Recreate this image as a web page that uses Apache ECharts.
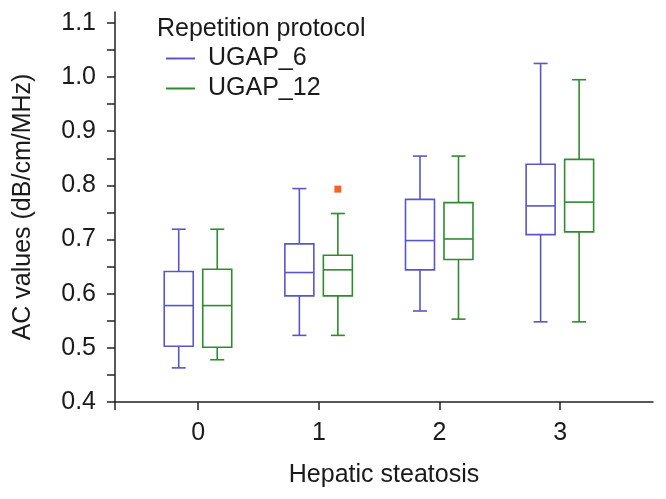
<!doctype html>
<html>
	<head>
		<meta charset="UTF-8">
		<title>AC values by hepatic steatosis</title>
		<script src="https://cdn.jsdelivr.net/npm/echarts@6/dist/echarts.min.js"></script>
		<style>
			html, body { margin: 0; padding: 0; background: #fff; }
			#chart { width: 666px; height: 499px; }
		</style>
	</head>
	<body>
		<div id="chart"></div>
		<script type="text/javascript">
			// 数据: [min, Q1, median, Q3, max]
			var categories = ['0', '1', '2', '3'];
			var ugap6 = [
				[0.463, 0.503, 0.578, 0.641, 0.719],
				[0.523, 0.596, 0.639, 0.692, 0.794],
				[0.568, 0.644, 0.698, 0.774, 0.854],
				[0.548, 0.709, 0.762, 0.839, 1.025]
			];
			var ugap12 = [
				[0.478, 0.501, 0.578, 0.645, 0.719],
				[0.523, 0.596, 0.644, 0.671, 0.748],
				[0.553, 0.663, 0.701, 0.768, 0.854],
				[0.548, 0.714, 0.769, 0.848, 0.995]
			];
			// 离群点: [category index, value]
			var outliers12 = [[1, 0.793]];
			var yLabels = [0.4, 0.5, 0.6, 0.7, 0.8, 0.9, 1.0, 1.1];
			var yTicks = [0.4, 0.45, 0.5, 0.55, 0.6, 0.65, 0.7, 0.75, 0.8, 0.85, 0.9, 0.95, 1.0, 1.05, 1.1];

			var blue = '#5a55c9';
			var green = '#2e8b2e';
			var font = 'Liberation Sans, Arial, Helvetica, sans-serif';

			function toData(rows) {
				return rows.map(function(r, i) {
					return [i].concat(r);
				});
			}

			// 画箱线图 (offset 为像素偏移)
			function boxRenderer(offset) {
				return function(params, api) {
					var x = api.value(0);
					var lo = api.coord([x, api.value(1)]);
					var q1 = api.coord([x, api.value(2)]);
					var md = api.coord([x, api.value(3)]);
					var q3 = api.coord([x, api.value(4)]);
					var hi = api.coord([x, api.value(5)]);
					var cx = lo[0] + offset;
					var hw = 14.5, cw = 7;
					var style = { stroke: api.visual('color'), lineWidth: 1.6, fill: null };
					return {
						type: 'group',
						children: [
							{ type: 'line', shape: { x1: cx, y1: hi[1], x2: cx, y2: q3[1] }, style: style },
							{ type: 'line', shape: { x1: cx, y1: q1[1], x2: cx, y2: lo[1] }, style: style },
							{ type: 'line', shape: { x1: cx - cw, y1: hi[1], x2: cx + cw, y2: hi[1] }, style: style },
							{ type: 'line', shape: { x1: cx - cw, y1: lo[1], x2: cx + cw, y2: lo[1] }, style: style },
							{ type: 'rect', shape: { x: cx - hw, y: q3[1], width: hw * 2, height: q1[1] - q3[1] }, style: style },
							{ type: 'line', shape: { x1: cx - hw, y1: md[1], x2: cx + hw, y2: md[1] }, style: style }
						]
					};
				};
			}

			var chart = echarts.init(document.getElementById('chart'));
			chart.setOption({
				animation: false,
				textStyle: { fontFamily: font },
				grid: { left: 115, right: 13, top: 12, bottom: 97 },
				graphic: [{
					type: 'text',
					left: 157,
					top: 17,
					style: { text: 'Repetition protocol', font: '25px ' + font, fill: '#1a1a1a' }
				}],
				legend: {
					orient: 'vertical',
					left: 161,
					top: 41,
					itemGap: 5,
					itemWidth: 29,
					itemHeight: 2,
					icon: 'rect',
					textStyle: { fontSize: 25, color: '#1a1a1a', padding: [0, 0, 0, 8] },
					data: ['UGAP_6', 'UGAP_12']
				},
				xAxis: {
					type: 'value',
					min: -0.69,
					max: 3.77,
					name: 'Hepatic steatosis',
					nameLocation: 'middle',
					nameGap: 61,
					nameTextStyle: { fontSize: 25, color: '#1a1a1a' },
					splitLine: { show: false },
					axisLine: { show: true, onZero: false, lineStyle: { color: '#222', width: 1.5 } },
					axisTick: { show: true, length: 8, lineStyle: { color: '#222', width: 1.5 }, customValues: [-0.69, 0, 1, 2, 3] },
					axisLabel: {
						fontSize: 25, color: '#1a1a1a', margin: 19,
						customValues: [0, 1, 2, 3],
						formatter: function(v) { return categories[Math.round(v)]; }
					}
				},
				yAxis: {
					type: 'value',
					min: 0.4,
					max: 1.12,
					name: 'AC values (dB/cm/MHz)',
					nameLocation: 'middle',
					nameGap: 79,
					nameTextStyle: { fontSize: 25, color: '#1a1a1a' },
					splitLine: { show: false },
					axisLine: { show: true, onZero: false, lineStyle: { color: '#222', width: 1.5 } },
					axisTick: { show: true, length: 8, lineStyle: { color: '#222', width: 1.5 }, customValues: yTicks },
					axisLabel: {
						fontSize: 25, color: '#1a1a1a', margin: 19,
						customValues: yLabels,
						formatter: function(v) { return v.toFixed(1); }
					}
				},
				series: [{
					name: 'UGAP_6',
					type: 'custom',
					itemStyle: { color: blue },
					encode: { x: 0, y: [1, 2, 3, 4, 5] },
					renderItem: boxRenderer(-19.5),
					data: toData(ugap6)
				}, {
					name: 'UGAP_12',
					type: 'custom',
					itemStyle: { color: green },
					encode: { x: 0, y: [1, 2, 3, 4, 5] },
					renderItem: boxRenderer(19),
					data: toData(ugap12)
				}, {
					name: 'outlier',
					type: 'scatter',
					symbol: 'rect',
					symbolSize: 7,
					symbolOffset: [19, 0],
					itemStyle: { color: '#f26522', opacity: 1 },
					data: outliers12
				}]
			});
		</script>
	</body>
</html>
